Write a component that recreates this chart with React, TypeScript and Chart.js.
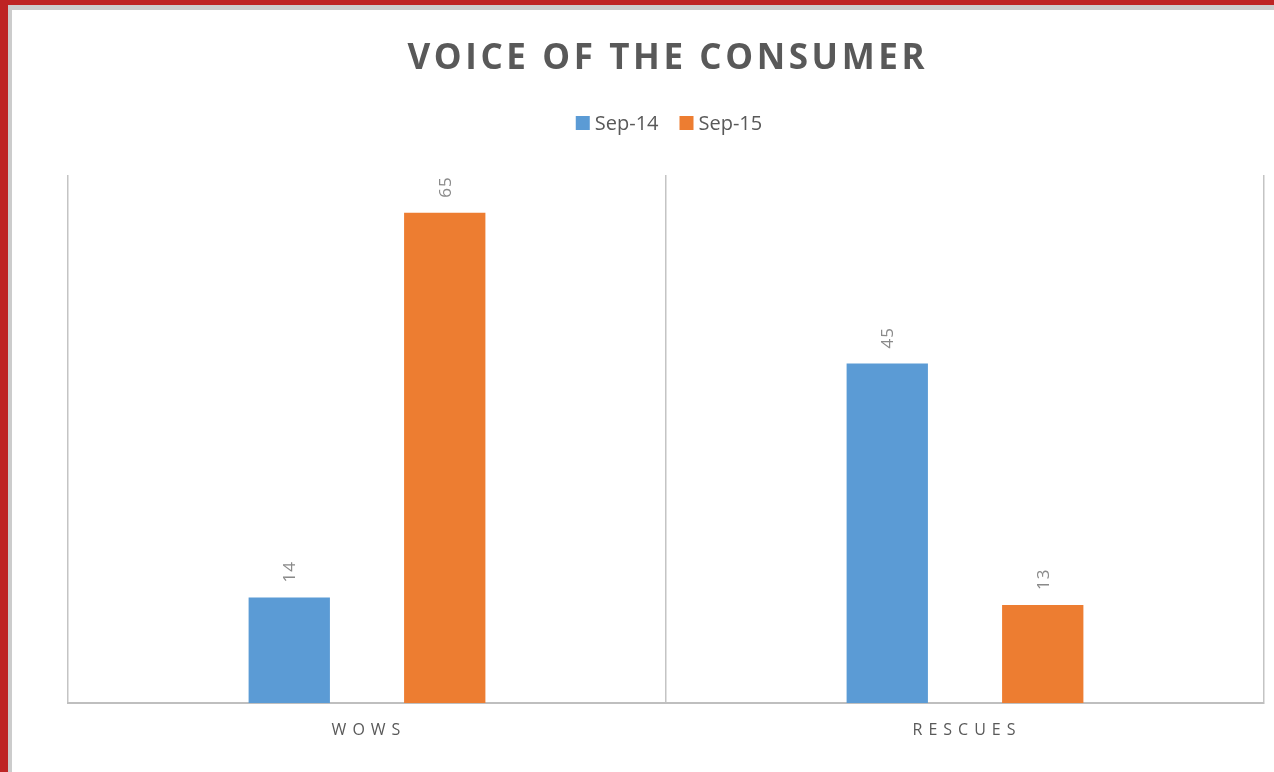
import React, { useEffect, useRef } from "react";
import { Chart, registerables } from "chart.js";

Chart.register(...registerables);

const chartTitle = "VOICE OF THE CONSUMER";
const categories = ["WOWS", "RESCUES"];
const seriesNames = ["Sep-14", "Sep-15"];
const sep14Values = [14, 45];
const sep15Values = [65, 13];
const seriesColors = ["#5B9BD5", "#ED7D31"];
const yMin = 0;
const yMax = 70;

const FONT = "'Open Sans', 'DejaVu Sans', sans-serif";
const TEXT_COLOR = "#595959";

const customPlugin = {
  id: "customText",
  afterDatasetsDraw(chart: any) {
    const ctx = chart.ctx as CanvasRenderingContext2D;
    ctx.save();
    ctx.fillStyle = "#8a8a8a";
    ctx.font = `17px ${FONT}`;
    (ctx as any).letterSpacing = "1px";
    chart.data.datasets.forEach((ds: any, i: number) => {
      const meta = chart.getDatasetMeta(i);
      meta.data.forEach((bar: any, j: number) => {
        ctx.save();
        ctx.translate(bar.x, bar.y - 15);
        ctx.rotate(-Math.PI / 2);
        ctx.textAlign = "left";
        ctx.textBaseline = "middle";
        ctx.fillText(String(ds.data[j]), 0, 1);
        ctx.restore();
      });
    });
    ctx.restore();
  },
  afterDraw(chart: any) {
    const ctx = chart.ctx as CanvasRenderingContext2D;
    const area = chart.chartArea;
    const cx = (area.left + area.right) / 2;

    // Title
    ctx.save();
    ctx.fillStyle = TEXT_COLOR;
    ctx.font = `bold 35px ${FONT}`;
    const tls = 3.6;
    (ctx as any).letterSpacing = `${tls}px`;
    ctx.textAlign = "center";
    ctx.textBaseline = "alphabetic";
    ctx.fillText(chartTitle, cx + tls / 2, 69);
    ctx.restore();

    // Legend
    ctx.save();
    ctx.font = `20px ${FONT}`;
    ctx.textBaseline = "middle";
    ctx.textAlign = "left";
    const box = 14;
    const gap = 5;
    const itemGap = 21;
    const widths = seriesNames.map((n) => box + gap + ctx.measureText(n).width);
    const total = widths.reduce((a, b) => a + b, 0) + itemGap * (seriesNames.length - 1);
    let x = cx + 3 - total / 2;
    const ly = 123;
    seriesNames.forEach((n, i) => {
      ctx.fillStyle = seriesColors[i];
      ctx.fillRect(x, ly - box / 2, box, box);
      ctx.fillStyle = TEXT_COLOR;
      ctx.fillText(n, x + box + gap, ly + 1);
      x += widths[i] + itemGap;
    });
    ctx.restore();

    // X-axis category labels
    ctx.save();
    ctx.fillStyle = TEXT_COLOR;
    ctx.font = `16px ${FONT}`;
    const xls = 6;
    (ctx as any).letterSpacing = `${xls}px`;
    ctx.textAlign = "center";
    ctx.textBaseline = "middle";
    const xScale = chart.scales.x;
    categories.forEach((c, i) => {
      ctx.fillText(c, xScale.getPixelForValue(i) + xls / 2 - 1, area.bottom + 27);
    });
    ctx.restore();
  },
};

export default function App() {
  const canvasRef = useRef<HTMLCanvasElement | null>(null);

  useEffect(() => {
    if (!canvasRef.current) return;
    const chart = new Chart(canvasRef.current, {
      type: "bar",
      data: {
        labels: categories,
        datasets: [
          {
            label: seriesNames[0],
            data: sep14Values,
            backgroundColor: seriesColors[0],
            categoryPercentage: 0.52,
            barPercentage: 0.523,
          },
          {
            label: seriesNames[1],
            data: sep15Values,
            backgroundColor: seriesColors[1],
            categoryPercentage: 0.52,
            barPercentage: 0.523,
          },
        ],
      },
      options: {
        animation: false,
        responsive: false,
        maintainAspectRatio: false,
        layout: {
          padding: { left: 68, right: 10, top: 175, bottom: 69 },
        },
        plugins: {
          legend: { display: false },
          title: { display: false },
          tooltip: { enabled: false },
        },
        scales: {
          x: {
            display: true,
            offset: true,
            grid: {
              display: true,
              offset: true,
              color: "#c4c4c4",
              lineWidth: 1.5,
              drawTicks: false,
            },
            border: { display: true, color: "#bfbfbf", width: 2 },
            ticks: { display: false },
          },
          y: {
            display: false,
            min: yMin,
            max: yMax,
          },
        },
      },
      plugins: [customPlugin],
    });
    return () => chart.destroy();
  }, []);

  return (
    <div
      style={{
        position: "fixed",
        left: 0,
        top: 0,
        width: 1274,
        height: 772,
        background: "#ffffff",
        overflow: "hidden",
      }}
    >
      <div
        style={{
          position: "absolute",
          left: 0,
          top: 0,
          width: 1274,
          height: 772,
          boxSizing: "border-box",
          borderLeft: "8px solid #be2424",
          borderTop: "5px solid #be2424",
        }}
      >
        <div
          style={{
            width: "100%",
            height: "100%",
            boxSizing: "border-box",
            borderLeft: "4px solid #cccccc",
            borderTop: "5px solid #cccccc",
          }}
        />
      </div>
      <canvas
        ref={canvasRef}
        width={1274}
        height={772}
        style={{ position: "absolute", left: 0, top: 0, width: 1274, height: 772 }}
      />
    </div>
  );
}
